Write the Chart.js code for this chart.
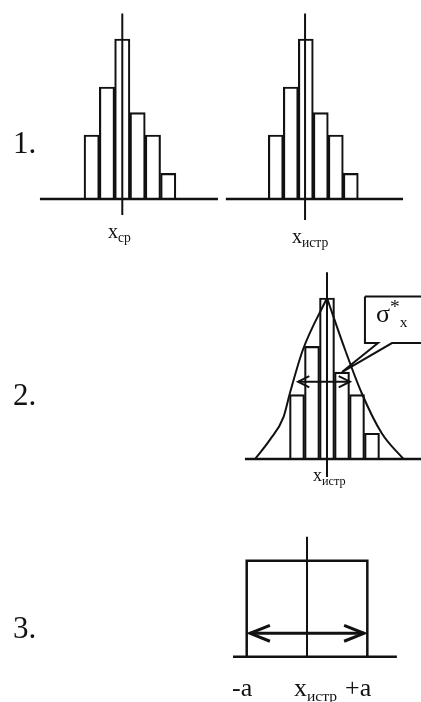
<!DOCTYPE html>
<html>
<head>
<meta charset="utf-8">
<script src="https://cdn.jsdelivr.net/npm/chart.js@4/dist/chart.umd.min.js"></script>
<style>
  html, body { margin: 0; padding: 0; background: #fff; }
  body { width: 421px; height: 702px; position: relative; overflow: hidden; }
  canvas { position: absolute; }
  .lbl { position: absolute; font-family: "Liberation Serif", "Times New Roman", serif; color: #111; line-height: 1; white-space: nowrap; }
  .num { font-size: 31px; }
  .sub { font-size: 0.68em; position: relative; top: 0.3em; }
  .sup { font-size: 0.75em; position: relative; top: -0.45em; }
</style>
</head>
<body>
<canvas id="hist1" style="left:30px;top:0px" width="195" height="260"></canvas>
<canvas id="hist2" style="left:225px;top:0px" width="196" height="260"></canvas>
<canvas id="normal" style="left:230px;top:262px" width="191" height="240"></canvas>
<canvas id="uniform" style="left:225px;top:520px" width="196" height="182"></canvas>

<div class="lbl num" style="left:13px;top:127px">1.</div>
<div class="lbl num" style="left:13px;top:379px">2.</div>
<div class="lbl num" style="left:13px;top:612px">3.</div>

<div class="lbl" style="left:108px;top:221px;font-size:20px">x<span class="sub">ср</span></div>
<div class="lbl" style="left:292px;top:226px;font-size:20px">x<span class="sub">истр</span></div>
<div class="lbl" style="left:313px;top:466px;font-size:18px">x<span class="sub">истр</span></div>
<div class="lbl" style="left:376px;top:301px;font-size:26px">σ<span class="sup">*</span><span class="sub" style="font-size:0.6em">x</span></div>
<div class="lbl" style="left:232px;top:675px;font-size:26px">-a</div>
<div class="lbl" style="left:294px;top:675px;font-size:26px">x<span class="sub" style="font-size:0.6em">истр</span></div>
<div class="lbl" style="left:345px;top:675px;font-size:26px">+a</div>

<script>
// Histogram bins (centre of each class, counts), shared by panels 1 and 2
const binCenters = [-2, -1, 0, 1, 2, 3];
const binCounts = [4, 7, 10, 5.4, 4, 1.6];

// Panel 2: smoothed density curve, left and right branches meeting at the peak
const curveLeftX = [-4.8, -3.8, -2.9, -2.47, -1.6, 0];
const curveLeftY = [0, 1.2, 2.6, 4.1, 6.8, 10];
const curveRightX = [0, 1.2, 2.31, 3.65, 5.1];
const curveRightY = [10, 6.8, 4.1, 1.6, 0];
const sigmaSpan = [-1.93, 1.53];
const sigmaLevel = 4.8;
// callout box for the sigma label: [left, right], [bottom, top], pointer base and tip
const calloutX = [2.53, 6.8];
const calloutY = [7.2, 10.1];
const calloutBase = [3.4, 4.33];
const calloutTip = [1.0, 5.4];

// Panel 3: uniform density on [-a, +a]
const uniformX = [-1, -1, 1, 1];
const uniformY = [0, 1, 1, 0];
const spanA = [-0.945, 0.945];
const spanLevel = 0.244;

const BLACK = "#111";

function pts(xs, ys) {
  return xs.map((x, i) => ({ x: x, y: ys[i] }));
}

function line(data, extra) {
  return Object.assign({
    type: "line",
    data: data,
    borderColor: BLACK,
    borderWidth: 2,
    pointRadius: 0,
    fill: false,
    tension: 0,
    clip: false,
  }, extra || {});
}

// double headed arrow: shaft plus two open heads (arm sizes in data units)
function arrow(x0, x1, y, armX, armY, width) {
  return [
    line(pts([x0, x1], [y, y]), { borderWidth: width }),
    line(pts([x0 + armX, x0, x0 + armX], [y + armY, y, y - armY]), { borderWidth: width }),
    line(pts([x1 - armX, x1, x1 - armX], [y + armY, y, y - armY]), { borderWidth: width }),
  ];
}

function options(xmin, xmax, ymin, ymax) {
  return {
    responsive: false,
    animation: false,
    layout: { padding: 0 },
    plugins: { legend: { display: false }, tooltip: { enabled: false } },
    scales: {
      x: { type: "linear", min: xmin, max: xmax, offset: false, display: false },
      y: { type: "linear", min: ymin, max: ymax, display: false },
    },
  };
}

function bars() {
  return {
    type: "bar",
    label: "counts",
    data: pts(binCenters, binCounts),
    backgroundColor: "rgba(0,0,0,0)",
    borderColor: BLACK,
    borderWidth: 1.5,
    barPercentage: 1,
    categoryPercentage: 1,
  };
}

// Panel 1, left: histogram around the sample mean
new Chart(document.getElementById("hist1"), {
  type: "bar",
  data: {
    datasets: [
      line(pts([0, 0], [11.6, -1.0])),
      line(pts([-5.38, 6.25], [0, 0]), { borderWidth: 2.5 }),
      bars(),
    ],
  },
  options: options(-6.03, 6.71, -3.8125, 12.4375),
});

// Panel 1, right: same histogram around the true value
new Chart(document.getElementById("hist2"), {
  type: "bar",
  data: {
    datasets: [
      line(pts([-0.05, -0.05], [11.6, -1.31])),
      line(pts([-5.33, 6.48], [0, 0]), { borderWidth: 2.5 }),
      bars(),
    ],
  },
  options: options(-5.387, 7.68, -3.8125, 12.4375),
});

// Panel 2: histogram with fitted normal curve and sigma arrow
new Chart(document.getElementById("normal"), {
  type: "bar",
  data: {
    datasets: [
      line(pts(
        [calloutX[0], calloutX[1], calloutX[1], calloutBase[1], calloutTip[0], calloutBase[0], calloutX[0], calloutX[0]],
        [calloutY[1], calloutY[1], calloutY[0], calloutY[0], calloutTip[1], calloutY[0], calloutY[0], calloutY[1]]
      ), { fill: true, backgroundColor: "#fff" }),
      ...arrow(sigmaSpan[0], sigmaSpan[1], sigmaLevel, 0.75, 0.35, 2),
      line(pts([0, 0], [11.6, -1.12])),
      line(pts([-5.47, 6.4], [0, 0]), { borderWidth: 2.5 }),
      line(pts(curveLeftX, curveLeftY), { cubicInterpolationMode: "monotone" }),
      line(pts(curveRightX, curveRightY), { cubicInterpolationMode: "monotone" }),
      bars(),
    ],
  },
  options: options(-6.467, 6.267, -2.671, 12.236),
});

// Panel 3: uniform distribution on [-a, +a]
new Chart(document.getElementById("uniform"), {
  type: "line",
  data: {
    datasets: [
      ...arrow(spanA[0], spanA[1], spanLevel, 0.33, 0.083, 3),
      line(pts([0, 0], [1.25, 0])),
      line(pts([-1.227, 1.49], [0, 0]), { borderWidth: 2.5 }),
      line(pts(uniformX, uniformY), { borderWidth: 2.5 }),
    ],
  },
  options: options(-1.36, 1.89, -0.472, 1.424),
});
</script>
</body>
</html>
